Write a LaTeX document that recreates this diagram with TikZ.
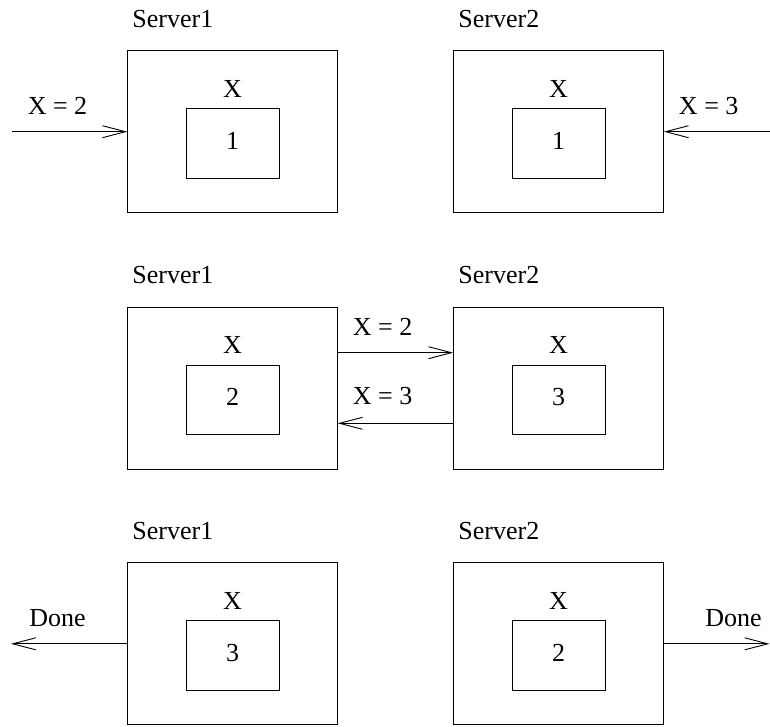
\documentclass[tikz,border=0pt]{standalone}
\usepackage{fontspec}
\setmainfont{Liberation Serif}
\usetikzlibrary{arrows.meta}
\begin{document}
\begin{tikzpicture}[x=1pt,y=-1pt,
  outerbox/.style={draw=black,line width=0.9pt,minimum width=209.6pt,minimum height=162pt,inner sep=0pt},
  innerbox/.style={draw=black,line width=0.9pt,minimum width=93pt,minimum height=69.5pt,inner sep=0pt},
  txt/.style={inner sep=0pt,anchor=base,font=\fontsize{26}{31}\selectfont},
  txtw/.style={txt,anchor=base west},
  arr/.style={line width=0.9pt,-{Straight Barb[length=23pt,width=12pt]}}]
\useasboundingbox (0,0) rectangle (770,726);
% row 1
\node[outerbox] (a1) at (232.5,131.7) {};
\node[outerbox] (b1) at (558.5,131.7) {};
\node[innerbox] (ai1) at (232.5,143.4) {};
\node[innerbox] (bi1) at (558.5,143.4) {};
\node[txtw] (la1) at (132.2,27.3) {Server1};
\node[txtw] (lb1) at (458.2,27.3) {Server2};
\node[txt] (xa1) at (232.5,97.3) {X};
\node[txt] (xb1) at (558.5,97.3) {X};
\node[txt] (va1) at (232.5,149.4) {1};
\node[txt] (vb1) at (558.5,149.4) {1};
\coordinate (in1) at (11.7,131.7);
\coordinate (in2) at (770,131.7);
\draw[arr] (in1) -- (a1.west);
\draw[arr] (in2) -- (b1.east);
\node[txt] (m1) at (57.5,114) {X = 2};
\node[txt] (m2) at (708.7,114) {X = 3};
% row 2
\node[outerbox] (a2) at (232.5,388) {};
\node[outerbox] (b2) at (558.5,388) {};
\node[innerbox] (ai2) at (232.5,399.7) {};
\node[innerbox] (bi2) at (558.5,399.7) {};
\node[txtw] (la2) at (132.2,283.3) {Server1};
\node[txtw] (lb2) at (458.2,283.3) {Server2};
\node[txt] (xa2) at (232.5,353.3) {X};
\node[txt] (xb2) at (558.5,353.3) {X};
\node[txt] (va2) at (232.5,405.5) {2};
\node[txt] (vb2) at (558.5,405.5) {3};
\draw[arr] ([yshift=35.3pt]a2.east) -- ([yshift=35.3pt]b2.west);
\draw[arr] ([yshift=-35.3pt]b2.west) -- ([yshift=-35.3pt]a2.east);
\node[txtw] (m3) at (352.7,335) {X = 2};
\node[txtw] (m4) at (352.7,404.3) {X = 3};
% row 3
\node[outerbox] (a3) at (232.5,643.8) {};
\node[outerbox] (b3) at (558.5,643.8) {};
\node[innerbox] (ai3) at (232.5,655.5) {};
\node[innerbox] (bi3) at (558.5,655.5) {};
\node[txtw] (la3) at (132.2,539.3) {Server1};
\node[txtw] (lb3) at (458.2,539.3) {Server2};
\node[txt] (xa3) at (232.5,609.3) {X};
\node[txt] (xb3) at (558.5,609.3) {X};
\node[txt] (va3) at (232.5,661.8) {3};
\node[txt] (vb3) at (558.5,661.8) {2};
\coordinate (out1) at (11,643.8);
\coordinate (out2) at (769.5,643.8);
\draw[arr] (a3.west) -- (out1);
\draw[arr] (b3.east) -- (out2);
\node[txt] (d1) at (57.5,626) {Done};
\node[txt] (d2) at (733.4,626) {Done};
\end{tikzpicture}
\end{document}
